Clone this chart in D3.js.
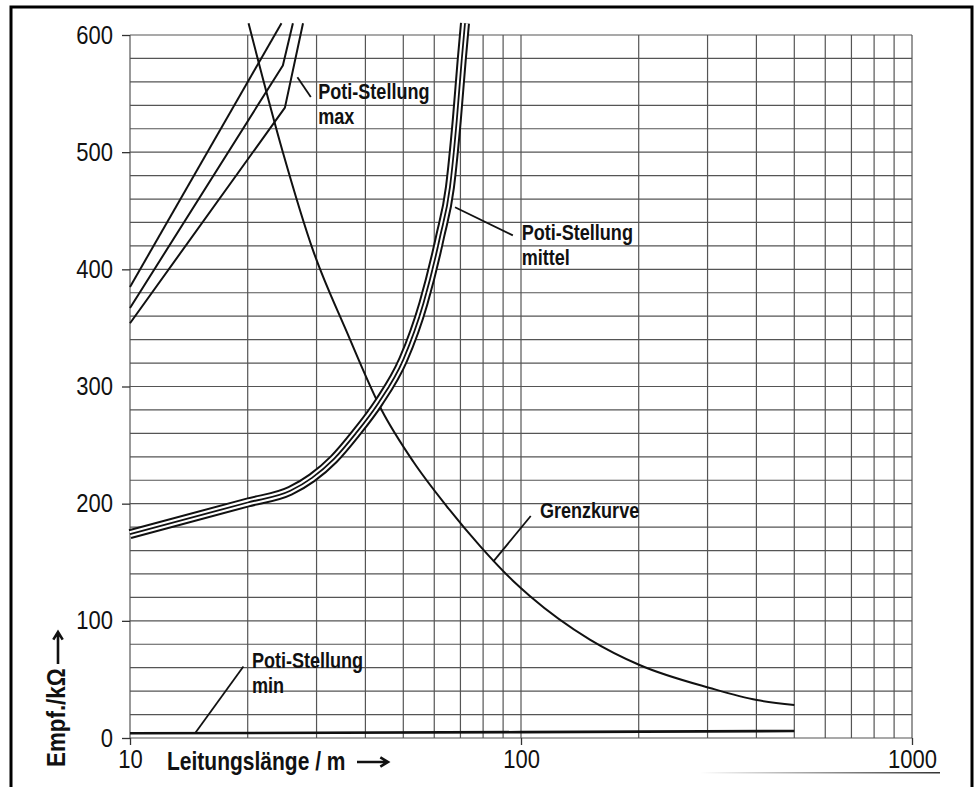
<!DOCTYPE html>
<html>
<head>
<meta charset="utf-8">
<script src="https://cdn.jsdelivr.net/npm/d3@7"></script>
<style>
body { margin: 0; background: #fff; }
svg { display: block; }
text { font-family: "Liberation Sans Narrow", "Arial Narrow", "Liberation Sans", Arial, sans-serif; fill: #111; }
</style>
</head>
<body>
<svg id="chart" width="980" height="787"></svg>
<script>
"use strict";

// Leitungslaenge in m, Empfindlichkeit in kOhm
var grenzLaenge = [20.1, 24.6, 29.4, 35.8, 44.0, 53.0, 64.5, 78.5, 95.5, 105.5, 150, 201, 304, 401, 500];
var grenzWert = [610, 500, 416, 347, 280, 236, 198, 164, 134, 121, 84, 62.3, 42.7, 32.4, 28.2];

var mittelLaenge = [10, 20, 25.7, 29.2, 33.2, 37.8, 43.2, 50, 56.3, 62.1, 65.8, 68.5, 70.5, 71.9];
var mittelWert = [174, 201, 211, 222, 238, 260, 286, 323, 371, 428, 470, 527, 578, 610];

var max1Laenge = [10, 24.4];
var max1Wert = [385, 610];
var max2Laenge = [10, 24.6, 26.1];
var max2Wert = [367, 574, 610];
var max3Laenge = [10, 24.9, 27.7];
var max3Wert = [354, 538, 610];

var minLaenge = [10, 100, 500];
var minWert = [4, 5, 6];

var xTickWerte = [10, 100, 1000];
var yTickWerte = [0, 100, 200, 300, 400, 500, 600];

var notizText = [
    ['Poti-Stellung', 'max'],
    ['Poti-Stellung', 'mittel'],
    ['Grenzkurve'],
    ['Poti-Stellung', 'min']
];

function Kurve(name, laenge, wert, art, glatt) {
    return {
        name: name,
        art: art,
        glatt: glatt,
        punkte: laenge.map(function (l, i) { return [l, wert[i]]; })
    };
}

var kurven = [
    Kurve('grenz', grenzLaenge, grenzWert, 'einfach', true),
    Kurve('max1', max1Laenge, max1Wert, 'einfach', false),
    Kurve('max2', max2Laenge, max2Wert, 'einfach', false),
    Kurve('max3', max3Laenge, max3Wert, 'einfach', false),
    Kurve('min', minLaenge, minWert, 'dick', false),
    Kurve('mittel', mittelLaenge, mittelWert, 'dreifach', true)
];

// Beschriftungen in Datenkoordinaten: Textanker und Hinweisstrich
var notizen = [
    { zeilen: notizText[0], at: [30.3, 545], strich: [[26.8, 564], [29.0, 547]] },
    { zeilen: notizText[1], at: [100.4, 425], strich: [[67.8, 453], [95.3, 429]] },
    { zeilen: notizText[2], at: [111.8, 187.5], strich: [[105.9, 189.5], [84.9, 150.5]] },
    { zeilen: notizText[3], at: [20.5, 59.5], strich: [[19.5, 61], [14.7, 4.5]] }
];

// Schmalschrift nachbilden, falls keine Narrow-Schrift da ist
function schmal(f) {
    return function (sel) {
        sel.each(function () {
            var l = this.getComputedTextLength();
            d3.select(this).attr('textLength', l * f).attr('lengthAdjust', 'spacingAndGlyphs');
        });
    };
}

function pfeil(g, x1, y1, x2, y2) {
    var a = Math.atan2(y2 - y1, x2 - x1), s = 9, w = 0.55;
    g.append('path')
        .attr('d', 'M' + x1 + ',' + y1 + 'L' + x2 + ',' + y2 +
            'M' + (x2 - s * Math.cos(a - w)) + ',' + (y2 - s * Math.sin(a - w)) +
            'L' + x2 + ',' + y2 +
            'L' + (x2 - s * Math.cos(a + w)) + ',' + (y2 - s * Math.sin(a + w)))
        .attr('fill', 'none')
        .attr('stroke', '#111')
        .attr('stroke-width', 2.6);
}

var svg = d3.select('#chart');
var x = d3.scaleLog().domain([10, 1000]).range([130, 912]);
var y = d3.scaleLinear().domain([0, 600]).range([738, 35]);

// Rahmen
svg.append('path')
    .attr('d', 'M11,787V7H972V787')
    .attr('fill', 'none')
    .attr('stroke', '#000')
    .attr('stroke-width', 3);
var grad = svg.append('defs').append('linearGradient').attr('id', 'fade');
grad.append('stop').attr('offset', '0').attr('stop-color', '#000').attr('stop-opacity', 0);
grad.append('stop').attr('offset', '1').attr('stop-color', '#000').attr('stop-opacity', 0.8);
svg.append('rect')
    .attr('x', 700).attr('y', 772).attr('width', 240).attr('height', 1.5)
    .attr('fill', 'url(#fade)');

// Gitter
var gitter = svg.append('g').attr('stroke', '#555').attr('stroke-width', 1.2);
gitter.selectAll('line.v').data(x.ticks()).enter().append('line')
    .attr('class', 'v')
    .attr('x1', function (d) { return x(d); })
    .attr('x2', function (d) { return x(d); })
    .attr('y1', y(600)).attr('y2', y(0));
gitter.selectAll('line.h').data(y.ticks(30)).enter().append('line')
    .attr('class', 'h')
    .attr('x1', x(10)).attr('x2', x(1000))
    .attr('y1', function (d) { return y(d); })
    .attr('y2', function (d) { return y(d); });

// Achsen
var yAchse = svg.append('g')
    .attr('transform', 'translate(' + x(10) + ',0)')
    .call(d3.axisLeft(y).tickValues(yTickWerte).tickSize(8).tickPadding(9));
var xAchse = svg.append('g')
    .attr('transform', 'translate(0,' + y(0) + ')')
    .call(d3.axisBottom(x).tickValues(xTickWerte).tickFormat(d3.format('d')).tickSize(7).tickPadding(5));
[yAchse, xAchse].forEach(function (a) {
    a.select('.domain').remove();
    a.attr('font-family', null).attr('font-size', null);
    a.selectAll('line').attr('stroke', '#333').attr('stroke-width', 1.3);
    a.selectAll('text').attr('font-size', 25).attr('fill', '#111').call(schmal(0.88));
});

var titel = svg.append('g');
titel.append('text')
    .attr('x', 167).attr('y', 770)
    .attr('font-size', 25).attr('font-weight', 'bold')
    .text('Leitungslänge / m')
    .call(schmal(0.84));
pfeil(titel, 357, 762, 388, 762);
titel.append('text')
    .attr('transform', 'translate(65,767) rotate(-90)')
    .attr('font-size', 26).attr('font-weight', 'bold')
    .text('Empf./k\u03A9')
    .call(schmal(0.86));
pfeil(titel, 58, 664, 58, 632);

// Kurven
var linieGlatt = d3.line()
    .x(function (d) { return x(d[0]); })
    .y(function (d) { return y(d[1]); })
    .curve(d3.curveMonotoneX);
var linieGerade = d3.line()
    .x(function (d) { return x(d[0]); })
    .y(function (d) { return y(d[1]); });

var schichten = {
    einfach: [{ farbe: '#111', breite: 2 }],
    dick: [{ farbe: '#111', breite: 2.6 }],
    dreifach: [{ farbe: '#111', breite: 10 }, { farbe: '#fff', breite: 6 }, { farbe: '#111', breite: 1.8 }]
};

kurven.forEach(function (k) {
    schichten[k.art].forEach(function (s) {
        svg.append('path')
            .datum(k.punkte)
            .attr('d', k.glatt ? linieGlatt : linieGerade)
            .attr('fill', 'none')
            .attr('stroke', s.farbe)
            .attr('stroke-width', s.breite)
            .attr('stroke-linejoin', 'round');
    });
});

// Beschriftungen
notizen.forEach(function (n) {
    svg.append('line')
        .attr('x1', x(n.strich[0][0])).attr('y1', y(n.strich[0][1]))
        .attr('x2', x(n.strich[1][0])).attr('y2', y(n.strich[1][1]))
        .attr('stroke', '#111').attr('stroke-width', 1.8);
    n.zeilen.forEach(function (z, i) {
        svg.append('text')
            .attr('x', x(n.at[0]))
            .attr('y', y(n.at[1]) + i * 25)
            .attr('font-size', 22).attr('font-weight', 'bold')
            .text(z)
            .call(schmal(0.82));
    });
});
</script>
</body>
</html>
